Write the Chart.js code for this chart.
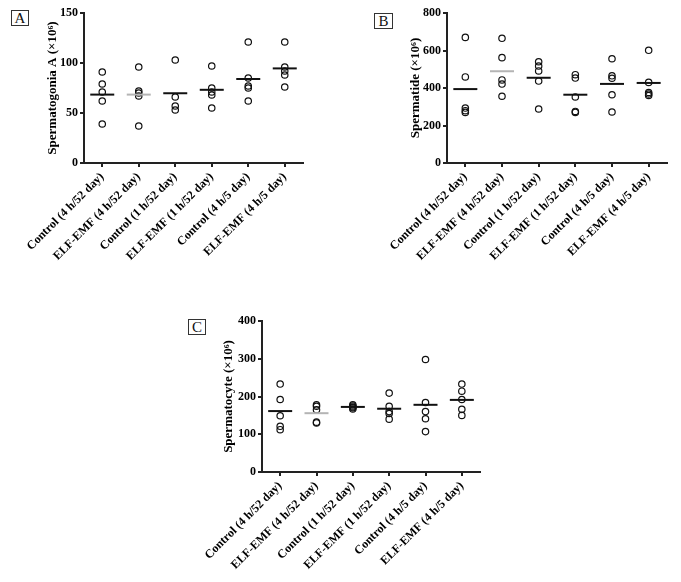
<!DOCTYPE html>
<html>
<head>
<meta charset="utf-8">
<script src="https://cdn.jsdelivr.net/npm/chart.js@4.4.1/dist/chart.umd.min.js"></script>
<style>
  body { margin: 0; background: #fff; }
  .panel { position: absolute; }
  .tag {
    position: absolute;
    border: 1px solid #333;
    font: 15px "Liberation Serif", serif;
    line-height: 14px;
    text-align: center;
    color: #111;
  }
</style>
</head>
<body>
<div class="tag" style="left:11px;top:10px;width:16px;height:14px;">A</div>
<div class="tag" style="left:374px;top:13px;width:17px;height:14px;">B</div>
<div class="tag" style="left:188px;top:319px;width:16px;height:14px;">C</div>

<div class="panel" style="left:0;top:0;width:320px;height:300px;"><canvas id="chartA"></canvas></div>
<div class="panel" style="left:340px;top:0;width:340px;height:300px;"><canvas id="chartB"></canvas></div>
<div class="panel" style="left:170px;top:305px;width:330px;height:277px;"><canvas id="chartC"></canvas></div>

<script>
const groups = [
  "Control (4 h/52 day)",
  "ELF-EMF (4 h/52 day)",
  "Control (1 h/52 day)",
  "ELF-EMF (1 h/52 day)",
  "Control (4 h/5 day)",
  "ELF-EMF (4 h/5 day)"
];

// panel A - spermatogonia A
const spermatogoniaA = [
  [91, 79, 71, 62, 39],
  [96, 72, 70, 67, 37],
  [103, 66, 57, 53],
  [97, 75, 71, 68, 55],
  [121, 85, 77, 75, 62],
  [121, 96, 92, 88, 76]
];

// panel B - spermatide
const spermatide = [
  [670, 459, 293, 279, 270],
  [665, 562, 443, 421, 356],
  [540, 517, 491, 437, 288],
  [471, 453, 352, 275, 270],
  [556, 465, 452, 364, 272],
  [601, 430, 376, 368, 360]
];

// panel C - spermatocyte
const spermatocyte = [
  [233, 192, 149, 121, 112],
  [178, 174, 165, 132, 130],
  [178, 175, 172, 170, 167],
  [209, 174, 160, 155, 140],
  [298, 184, 160, 141, 107],
  [233, 214, 192, 166, 150]
];

const ticksA = { max: 150, step: 50 };
const ticksB = { max: 800, step: 200 };
const ticksC = { max: 400, step: 100 };

const axisColor = "#222";
const serif = "'Liberation Serif', 'Times New Roman', serif";

function mean(arr) {
  return arr.reduce((a, b) => a + b, 0) / arr.length;
}

function makeChart(id, values, yTicks, yTitle, box) {
  // category scale wants the label string, a bare number is read as the data index
  const points = [];
  values.forEach((vals, i) => vals.forEach(v => points.push({ x: groups[i], y: v })));
  const means = values.map((vals, i) => ({ x: groups[i], y: mean(vals) }));
  const meanColors = values.map((_, i) => (i === 1 ? "#b4b4b4" : "#111"));

  return new Chart(document.getElementById(id), {
    type: "scatter",
    data: {
      labels: groups,
      datasets: [
        {
          data: means,
          pointStyle: "line",
          radius: 12,
          borderWidth: 2,
          borderColor: meanColors,
          backgroundColor: meanColors
        },
        {
          data: points,
          pointStyle: "circle",
          radius: 3.2,
          borderWidth: 1.2,
          borderColor: "#111",
          backgroundColor: "rgba(0,0,0,0)"
        }
      ]
    },
    options: {
      responsive: true,
      maintainAspectRatio: false,
      animation: false,
      events: [],
      layout: { autoPadding: false, padding: box.padding },
      plugins: { legend: { display: false }, tooltip: { enabled: false } },
      scales: {
        x: {
          type: "category",
          offset: true,
          grid: { drawOnChartArea: false, drawTicks: true, tickLength: 4, color: axisColor, lineWidth: 2 },
          border: { display: true, color: axisColor, width: 2 },
          ticks: {
            color: "#000",
            padding: 3,
            minRotation: 45,
            maxRotation: 45,
            autoSkip: false,
            font: { family: serif, size: 12, weight: "bold" }
          },
          afterFit: s => { s.height = box.xHeight; }
        },
        y: {
          min: 0,
          max: yTicks.max,
          grid: { drawOnChartArea: false, drawTicks: true, tickLength: 4, color: axisColor, lineWidth: 2 },
          border: { display: true, color: axisColor, width: 2 },
          ticks: {
            stepSize: yTicks.step,
            color: "#000",
            padding: 2,
            font: { family: serif, size: 12, weight: "bold" }
          },
          title: {
            display: true,
            text: yTitle,
            color: "#000",
            padding: { top: box.titlePad, bottom: 0 },
            font: { family: serif, size: 13, weight: "bold" }
          },
          afterFit: s => { s.width = box.yWidth; }
        }
      }
    }
  });
}

makeChart("chartA", spermatogoniaA, ticksA, "Spermatogonia A (×10⁶)",
  { padding: { top: 13, right: 17, bottom: 0, left: 0 }, xHeight: 137, yWidth: 84, titlePad: 45 });
makeChart("chartB", spermatide, ticksB, "Spermatide (×10⁶)",
  { padding: { top: 13, right: 13, bottom: 0, left: 0 }, xHeight: 137, yWidth: 107, titlePad: 68 });
makeChart("chartC", spermatocyte, ticksC, "Spermatocyte (×10⁶)",
  { padding: { top: 16, right: 20, bottom: 0, left: 0 }, xHeight: 110, yWidth: 92, titlePad: 51 });
</script>
</body>
</html>
